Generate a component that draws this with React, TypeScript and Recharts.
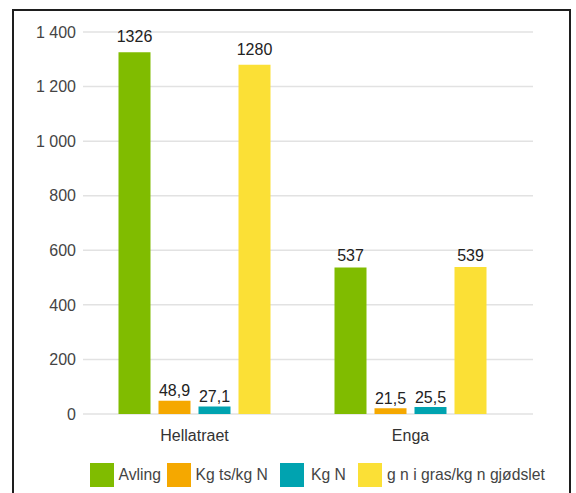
import { Bar, BarChart, CartesianGrid, LabelList, Legend, XAxis, YAxis } from "recharts";

const places = ["Hellatraet", "Enga"];
const avling = [1326, 537];
const kgTsPerKgN = [48.9, 21.5];
const kgN = [27.1, 25.5];
const grasPerGjodslet = [1280, 539];
const yTicks = [0, 200, 400, 600, 800, 1000, 1200, 1400];

const series = [
  { key: "avling", name: "Avling", color: "#80bc00" },
  { key: "kgTs", name: "Kg ts/kg N", color: "#f5a800" },
  { key: "kgN", name: "Kg N", color: "#00a3b0" },
  { key: "gras", name: "g n i gras/kg n gjødslet", color: "#fbe036" },
];

// left edge of each legend swatch, relative to the legend box
const legendSlots = [0, 77, 190.5, 268.5];

const data = places.map((place, i) => ({
  place,
  avling: avling[i],
  kgTs: kgTsPerKgN[i],
  kgN: kgN[i],
  gras: grasPerGjodslet[i],
}));

const FONT = '"Liberation Sans", Arial, Helvetica, sans-serif';

const fmtThousands = (v: number) =>
  String(v).replace(/\B(?=(\d{3})+(?!\d))/g, " ");
const fmtDecimal = (v: number) => String(v).replace(".", ",");

// value label above a bar; taller bars get slightly more headroom
function ValueLabel(props: any) {
  const { x, y, width, height, value } = props;
  const gap = 4 + Math.abs(height) * 0.0165;
  return (
    <text
      x={x + width / 2}
      y={y - gap}
      textAnchor="middle"
      fill="#222"
      fontSize={16}
      fontFamily={FONT}
    >
      {fmtDecimal(value)}
    </text>
  );
}

function LegendRow() {
  return (
    <div style={{ position: "relative", height: 24, fontFamily: FONT }}>
      {series.map((s, i) => (
        <div
          key={s.key}
          style={{
            position: "absolute",
            left: legendSlots[i],
            top: 0,
            display: "flex",
            alignItems: "center",
            whiteSpace: "nowrap",
          }}
        >
          <span style={{ width: 24, height: 24, background: s.color, display: "inline-block" }} />
          <span style={{ marginLeft: i === 2 ? 7 : 5, fontSize: 15.7, color: "#444" }}>{s.name}</span>
        </div>
      ))}
    </div>
  );
}

export default function App() {
  return (
    <div
      style={{
        position: "fixed",
        left: 0,
        top: 0,
        width: 576,
        height: 493,
        background: "#fff",
        overflow: "hidden",
      }}
    >
      <div
        style={{
          position: "absolute",
          left: 12,
          top: 9,
          width: 555,
          height: 520,
          border: "2px solid #1e1e1e",
        }}
      />
      <BarChart
        width={576}
        height={493}
        data={data}
        margin={{ top: 32, right: 43, bottom: 49, left: 0 }}
        barSize={32}
        barGap={8}
        style={{ position: "absolute", left: 0, top: 0 }}
      >
        <CartesianGrid vertical={false} stroke="#e2e2e2" strokeWidth={1.5} />
        <XAxis
          dataKey="place"
          height={30}
          axisLine={false}
          tickLine={false}
          tickSize={0}
          tickMargin={16}
          padding={{ left: 3.5, right: 14.5 }}
          tick={{ fill: "#333", fontSize: 16, fontFamily: FONT }}
        />
        <YAxis
          width={83}
          domain={[0, 1400]}
          ticks={yTicks}
          axisLine={false}
          tickLine={false}
          tickSize={0}
          tickMargin={7}
          tickFormatter={fmtThousands}
          tick={{ fill: "#444", fontSize: 16, fontFamily: FONT }}
        />
        <Legend
          verticalAlign="middle"
          layout="horizontal"
          content={() => <LegendRow />}
          wrapperStyle={{ left: 89.5, top: 463, width: 480 }}
        />
        {series.map((s) => (
          <Bar
            key={s.key}
            dataKey={s.key}
            name={s.name}
            fill={s.color}
            isAnimationActive={false}
          >
            <LabelList dataKey={s.key} content={<ValueLabel />} />
          </Bar>
        ))}
      </BarChart>
    </div>
  );
}
